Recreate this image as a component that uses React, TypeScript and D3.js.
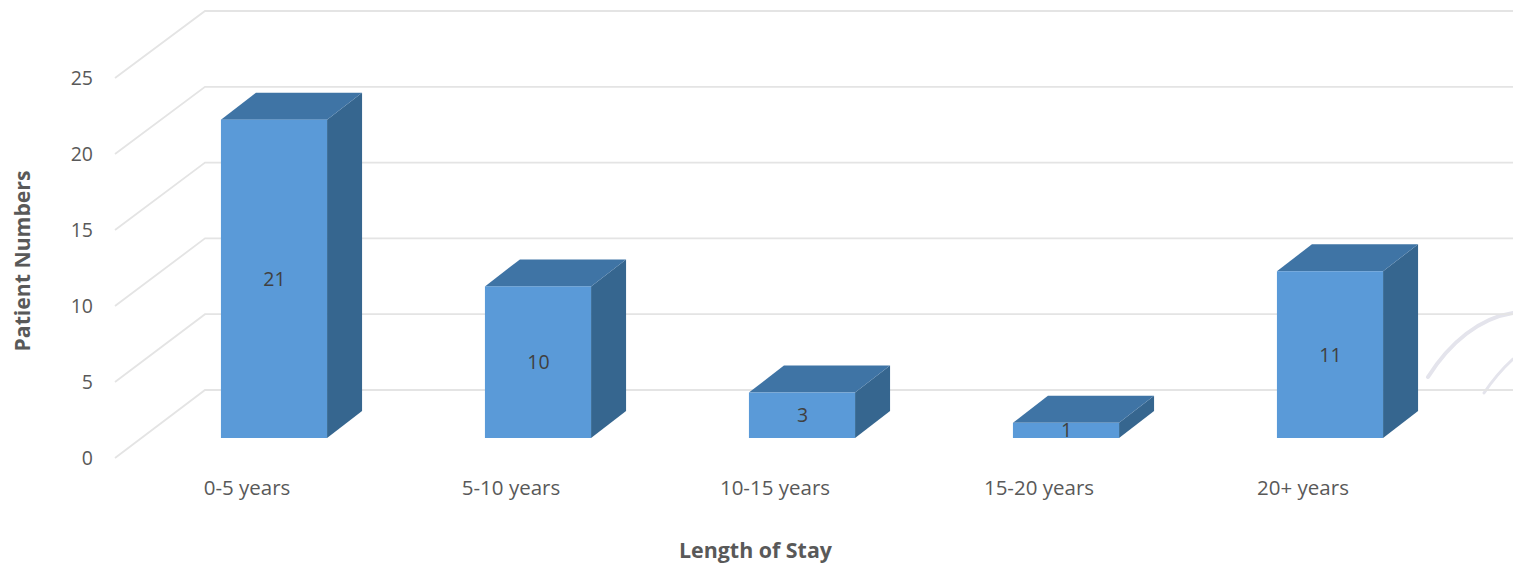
import React from "react";
import * as d3 from "d3";

const categories = ["0-5 years", "5-10 years", "10-15 years", "15-20 years", "20+ years"];
const patients = [21, 10, 3, 1, 11];
const gridValues = [0, 5, 10, 15, 20, 25];

const WIDTH = 1513;
const HEIGHT = 563;
const FONT = "'Open Sans', 'Noto Sans', sans-serif";
const TEXT = "#595959";

// Three projections of the same value axis: back wall, floor edge and bar face.
const wallY = d3.scaleLinear().domain([0, 25]).range([390, 11]);
const edgeY = d3.scaleLinear().domain([0, 25]).range([458, 78]);
const faceY = d3.scaleLinear().domain([0, 25]).range([438, 59]);
const faceX = d3.scaleBand<string>().domain(categories).range([142, 1462]).paddingInner(0.598).paddingOuter(0.299);

const DEPTH_X = 35;
const DEPTH_Y = 27;
const line = d3.line();
const closed = (pts: [number, number][]) => line(pts) + "Z";

export default function App() {
  return (
    <svg
      width={WIDTH}
      height={HEIGHT}
      viewBox={`0 0 ${WIDTH} ${HEIGHT}`}
      style={{ position: "absolute", left: 0, top: 0, background: "#fff" }}
      fontFamily={FONT}
    >
      {/* Faint emblem arcs behind the plot, at the right edge */}
      <g fill="none" stroke="#e4e4ec" strokeLinecap="round">
        <path d="M1428,377 C1450,342 1480,318 1513,313" strokeWidth={4} />
        <path d="M1484,393 C1492,381 1502,369 1513,359" strokeWidth={3} />
      </g>

      {/* Wall gridlines with their slanted floor-side returns */}
      <g fill="none" stroke="#e4e4e4" strokeWidth={1.8}>
        {gridValues.map((v) => (
          <path
            key={v}
            d={line([
              [115, edgeY(v)],
              [205, wallY(v)],
              [WIDTH, wallY(v)],
            ]) as string}
          />
        ))}
      </g>

      {/* Value axis */}
      <g fill={TEXT} fontSize={19.5} textAnchor="end">
        {gridValues.map((v) => (
          <text key={v} x={93} y={edgeY(v) + 7}>
            {v}
          </text>
        ))}
      </g>

      {/* Cuboid bars */}
      {categories.map((c, i) => {
        const x0 = faceX(c) as number;
        const x1 = x0 + faceX.bandwidth();
        const top = faceY(patients[i]);
        const base = faceY(0);
        return (
          <g key={c}>
            <path
              d={closed([
                [x1, top],
                [x1 + DEPTH_X, top - DEPTH_Y],
                [x1 + DEPTH_X, base - DEPTH_Y],
                [x1, base],
              ])}
              fill="#36668f"
            />
            <path
              d={closed([
                [x0, top],
                [x0 + DEPTH_X, top - DEPTH_Y],
                [x1 + DEPTH_X, top - DEPTH_Y],
                [x1, top],
              ])}
              fill="#3f74a5"
            />
            <rect x={x0} y={top} width={x1 - x0} height={base - top} fill="#5a9ad8" />
            <text
              x={(x0 + x1) / 2 + 0.5}
              y={(top + base) / 2 + 7}
              fill="#404040"
              fontSize={19.5}
              textAnchor="middle"
            >
              {patients[i]}
            </text>
            <text x={(x0 + x1) / 2 - 27} y={495} fill={TEXT} fontSize={20.5} textAnchor="middle">
              {c}
            </text>
          </g>
        );
      })}

      {/* Axis titles */}
      <text x={755.5} y={558} fill={TEXT} fontSize={21.4} fontWeight={700} textAnchor="middle">
        Length of Stay
      </text>
      <text
        transform="translate(30,261) rotate(-90)"
        fill={TEXT}
        fontSize={21.2}
        fontWeight={700}
        textAnchor="middle"
      >
        Patient Numbers
      </text>
    </svg>
  );
}
